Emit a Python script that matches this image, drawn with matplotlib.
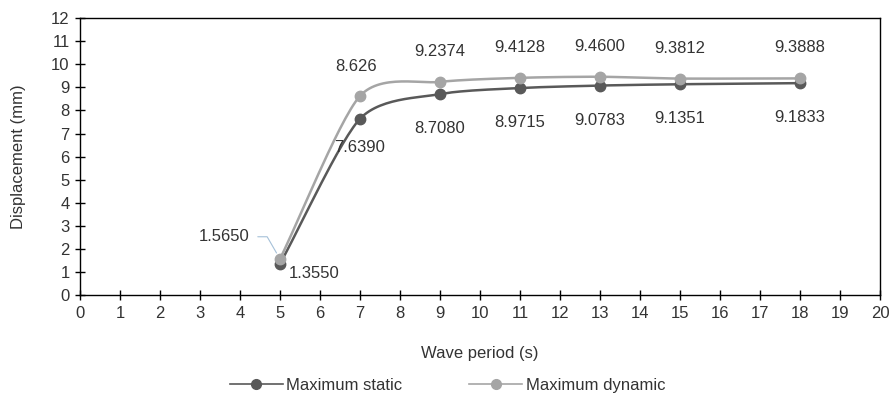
import numpy as np
import matplotlib.pyplot as plt

plt.rcParams['font.family'] = ['Liberation Sans', 'DejaVu Sans']

periods = [5, 7, 9, 11, 13, 15, 18]
static = [1.3550, 7.6390, 8.7080, 8.9715, 9.0783, 9.1351, 9.1833]
dynamic = [1.5650, 8.626, 9.2374, 9.4128, 9.4600, 9.3812, 9.3888]
static_labels = ['1.3550', '7.6390', '8.7080', '8.9715', '9.0783', '9.1351', '9.1833']
dynamic_labels = ['1.5650', '8.626', '9.2374', '9.4128', '9.4600', '9.3812', '9.3888']

c_static = '#595959'
c_dynamic = '#a5a5a5'
c_text = '#333333'


def smooth(x, y, n=30, tension=0.75):
    # catmull-rom style smoothing, like excel's smoothed line
    x = np.asarray(x, float)
    y = np.asarray(y, float)
    px = np.concatenate([[2 * x[0] - x[1]], x, [2 * x[-1] - x[-2]]])
    py = np.concatenate([[2 * y[0] - y[1]], y, [2 * y[-1] - y[-2]]])
    xs, ys = [], []
    t = np.linspace(0, 1, n)[:, None]
    h00 = 2 * t ** 3 - 3 * t ** 2 + 1
    h10 = t ** 3 - 2 * t ** 2 + t
    h01 = -2 * t ** 3 + 3 * t ** 2
    h11 = t ** 3 - t ** 2
    for i in range(1, len(px) - 2):
        p0, p1, p2, p3 = [np.array([px[j], py[j]]) for j in range(i - 1, i + 3)]
        m1 = tension * 0.5 * (p2 - p0)
        m2 = tension * 0.5 * (p3 - p1)
        pts = h00 * p1 + h10 * m1 + h01 * p2 + h11 * m2
        xs.extend(pts[:, 0])
        ys.extend(pts[:, 1])
    return np.array(xs), np.array(ys)


fig = plt.figure(figsize=(8.95, 3.94), dpi=100)
ax = fig.add_axes([0.0894, 0.251, 0.8938, 0.703])

sx, sy = smooth(periods, static)
dx, dy = smooth(periods, dynamic)
ax.plot(sx, sy, color=c_static, lw=1.8, zorder=3)
ax.plot(dx, dy, color=c_dynamic, lw=1.8, zorder=3)
ax.plot(periods, static, 'o', color=c_static, ms=7.5, zorder=4)
ax.plot(periods, dynamic, 'o', color=c_dynamic, ms=7.5, zorder=4)

# legend proxies
ax.plot([], [], '-o', color=c_static, lw=1.2, ms=7, label='Maximum static')
ax.plot([], [], '-o', color=c_dynamic, lw=1.2, ms=7, label='Maximum dynamic')

fs = 12
# data labels
for i, (x, y, s) in enumerate(zip(periods, static, static_labels)):
    if i == 0:
        ax.annotate(s, (x, y), xytext=(6, -7), textcoords='offset points',
                    ha='left', va='center', fontsize=fs, color=c_text)
    elif i == 1:
        ax.annotate(s, (x, y), xytext=(0, -21), textcoords='offset points',
                    ha='center', va='center', fontsize=fs, color=c_text)
    else:
        ax.annotate(s, (x, y), xytext=(0, -25), textcoords='offset points',
                    ha='center', va='center', fontsize=fs, color=c_text)

for i, (x, y, s) in enumerate(zip(periods, dynamic, dynamic_labels)):
    if i == 0:
        ax.annotate(s, (x, y), xytext=(-22, 16), textcoords='offset points',
                    ha='right', va='center', fontsize=fs, color=c_text,
                    arrowprops=dict(arrowstyle='-', color='#a5c0d8', lw=0.8,
                                    connectionstyle='angle,angleA=0,angleB=120,rad=0',
                                    shrinkA=4, shrinkB=5))
    elif i == 1:
        ax.annotate(s, (x, y), xytext=(-3, 21), textcoords='offset points',
                    ha='center', va='center', fontsize=fs, color=c_text)
    else:
        ax.annotate(s, (x, y), xytext=(0, 22), textcoords='offset points',
                    ha='center', va='center', fontsize=fs, color=c_text)

ax.set_xlim(0, 20)
ax.set_ylim(0, 12)
ax.set_xticks(range(0, 21))
ax.set_yticks(range(0, 13))
ax.tick_params(direction='inout', length=7, width=1, labelsize=fs, colors='black',
               labelcolor=c_text, pad=4)
for sp in ax.spines.values():
    sp.set_linewidth(1)
    sp.set_color('black')

ax.set_xlabel('Wave period (s)', fontsize=fs, color=c_text, labelpad=18)
ax.set_ylabel('Displacement (mm)', fontsize=fs, color=c_text, labelpad=18)

fig.legend(loc='lower center', bbox_to_anchor=(0.5, -0.035), ncol=2, frameon=False,
           fontsize=fs, handlelength=3.2, columnspacing=4, handletextpad=0.2,
           labelcolor=c_text)

plt.savefig('out.png', dpi=100)
